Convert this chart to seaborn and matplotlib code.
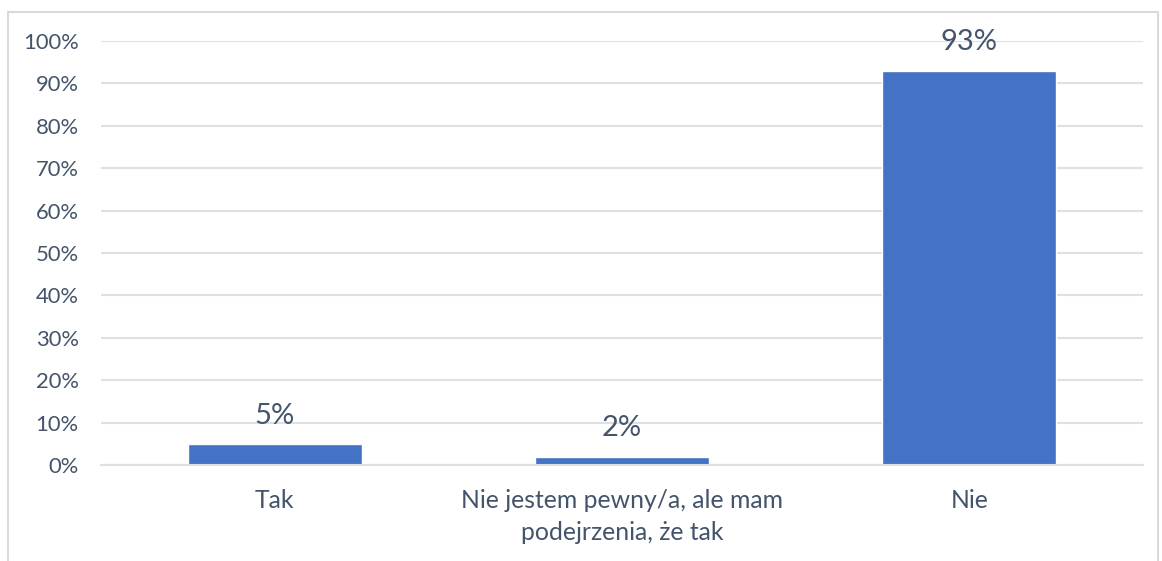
import matplotlib
matplotlib.use("Agg")
import matplotlib.pyplot as plt
import seaborn as sns
import pandas as pd
from matplotlib.patches import Rectangle
from matplotlib.ticker import PercentFormatter

# dane z wykresu
kategorie = ["Tak", "Nie jestem pewny/a, ale mam\npodejrzenia, że tak", "Nie"]
wartosci = [5, 2, 93]
etykiety = ["5%", "2%", "93%"]

df = pd.DataFrame({"kategoria": kategorie, "procent": wartosci})

sns.set_style("white")
plt.rcParams["font.family"] = ["Lato", "DejaVu Sans"]
kolor_tekstu = "#44546A"
kolor_siatki = "#DDE1E6"

fig = plt.figure(figsize=(11.62, 5.61), dpi=100)
ax = fig.add_axes([101 / 1162, 96 / 561, 1042 / 1162, 424 / 561])

sns.barplot(data=df, x="kategoria", y="procent", color="#4472C4", width=0.5,
            saturation=1, ax=ax)

ax.set_ylim(0, 100)
ax.set_xlim(-0.5, 2.5)
ax.set_yticks(range(0, 101, 10))
ax.yaxis.set_major_formatter(PercentFormatter(decimals=0))
ax.grid(axis="y", color=kolor_siatki, linewidth=1.5)
ax.set_axisbelow(True)
for s in ["top", "right", "left"]:
    ax.spines[s].set_visible(False)
ax.spines["bottom"].set_color(kolor_siatki)
ax.spines["bottom"].set_linewidth(1.5)
ax.set_xlabel("")
ax.set_ylabel("")
ax.tick_params(axis="y", length=0, pad=16, labelsize=15.8, labelcolor=kolor_tekstu)
ax.tick_params(axis="x", length=0, pad=17.5, labelsize=17.8, labelcolor=kolor_tekstu)
for lab in ax.get_xticklabels():
    lab.set_linespacing(1.45)

# etykiety nad słupkami
for i, (v, t) in enumerate(zip(wartosci, etykiety)):
    ax.annotate(t, (i, v), xytext=(0, 11), textcoords="offset points",
                ha="center", va="bottom", fontsize=21, color=kolor_tekstu)

# ramka wykresu
fig.patches.append(Rectangle((8 / 1162, -0.05), 1150 / 1162, 1.05 - 12 / 561,
                             transform=fig.transFigure, fill=False,
                             edgecolor="#D9D9D9", linewidth=1.5))

fig.savefig("out.png", dpi=100, facecolor="white")
